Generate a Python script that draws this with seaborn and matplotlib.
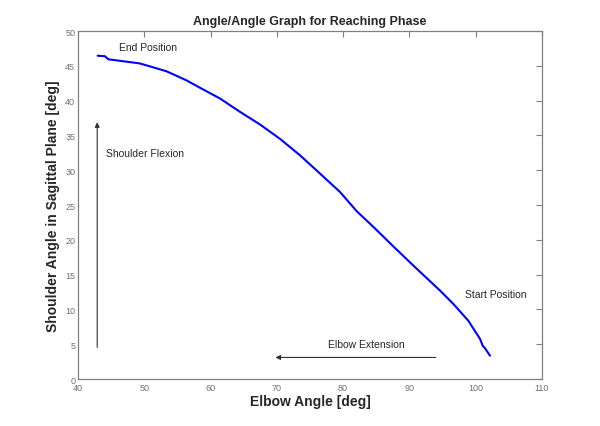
import matplotlib
matplotlib.use("Agg")
import matplotlib.pyplot as plt
import seaborn as sns
import pandas as pd

elbow = [42.97, 44.07, 44.57, 47.3, 49.3, 51.3, 53.4, 56.4, 58.45, 61.46, 64.48, 67.5,
         70.5, 73.5, 76.55, 79.56, 82.08, 84.59, 87.6, 90.87, 94.65, 96.65, 98.9,
         100.68, 101.1, 101.43, 102.18]
shoulder = [46.45, 46.38, 45.94, 45.6, 45.35, 44.8, 44.2, 42.9, 41.83, 40.29, 38.37, 36.55,
            34.5, 32.15, 29.5, 26.86, 24.1, 21.85, 19.05, 16.07, 12.7, 10.79, 8.39,
            5.76, 4.75, 4.42, 3.35]
xticks = [40, 50, 60, 70, 80, 90, 100, 110]
yticks = [0, 5, 10, 15, 20, 25, 30, 35, 40, 45, 50]

sns.set_style("white")
plt.rcParams['font.family'] = ['Liberation Sans', 'DejaVu Sans']

df = pd.DataFrame({"elbow": elbow, "shoulder": shoulder})

fig = plt.figure(figsize=(6, 4.27), dpi=100)
ax = fig.add_axes([0.13, 0.11, 0.773, 0.815])
sns.lineplot(data=df, x="elbow", y="shoulder", ax=ax, color="#0000ff", lw=1.5,
             estimator=None, sort=False)

ax.set_xlim(40, 110)
ax.set_ylim(0, 50)
ax.set_xticks(xticks)
ax.set_yticks(yticks)
ax.tick_params(direction="in", length=4, width=0.8, colors="#808080",
               labelsize=6.5, top=True, right=True, labelcolor="#707070", pad=2)
ax.tick_params(axis="x", pad=3)
for s in ax.spines.values():
    s.set_color("#808080")
    s.set_linewidth(0.9)

ax.set_title("Angle/Angle Graph for Reaching Phase", fontsize=9, fontweight="bold", pad=5)
ax.set_xlabel("Elbow Angle [deg]", fontsize=10, fontweight="bold", labelpad=1)
ax.set_ylabel("Shoulder Angle in Sagittal Plane [deg]", fontsize=10, fontweight="bold", labelpad=4)

ax.text(46.2, 47.7, "End Position", fontsize=7.5, va="center", ha="left")
ax.text(44.2, 32.5, "Shoulder Flexion", fontsize=7.5, va="center", ha="left")
ax.text(77.7, 5.1, "Elbow Extension", fontsize=7.5, va="center", ha="left")
ax.text(98.4, 12.2, "Start Position", fontsize=7.5, va="center", ha="left")

arrow = dict(arrowstyle="-|>", color="#303030", lw=0.8, mutation_scale=7,
             shrinkA=0, shrinkB=0)
ax.annotate("", xy=(42.9, 36.9), xytext=(42.9, 4.55), arrowprops=arrow)
ax.annotate("", xy=(69.8, 3.1), xytext=(94.0, 3.1), arrowprops=arrow)

fig.savefig("out.png", dpi=100, facecolor="white")
